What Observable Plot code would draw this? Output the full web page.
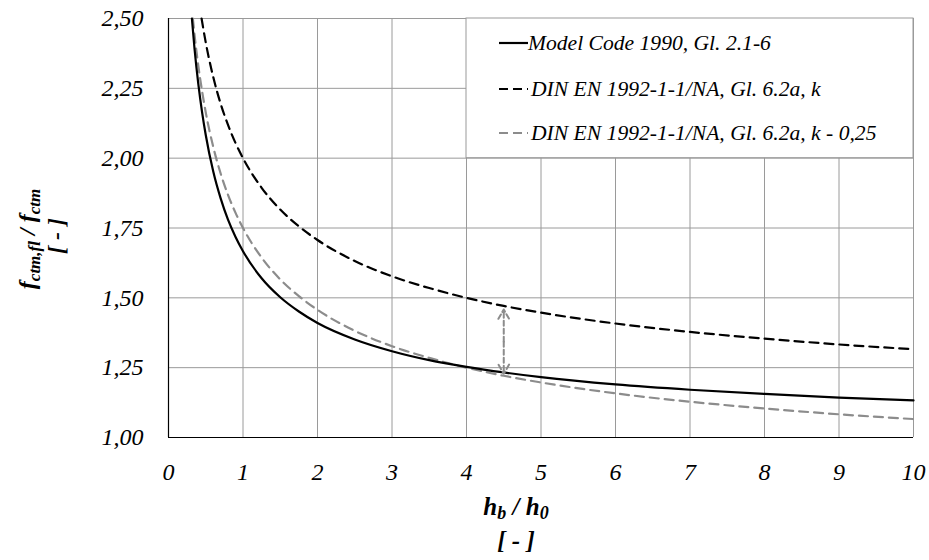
<!DOCTYPE html>
<html><head><meta charset="utf-8">
<script src="https://cdn.jsdelivr.net/npm/d3@7"></script>
<script src="https://cdn.jsdelivr.net/npm/@observablehq/plot@0.6"></script>
<style>body{margin:0;background:#fff}</style>
</head><body><div id="chart"></div>
<script>
// Model Code 1990, Gl. 2.1-6
const mcX = [0.314, 0.35, 0.4, 0.45, 0.5, 0.6, 0.7, 0.8, 0.9, 1, 1.25, 1.5, 1.75, 2, 2.5, 3, 3.5, 4, 4.5, 5, 6, 7, 8, 9, 10];
const mcY = [2.500, 2.390, 2.266, 2.166, 2.083, 1.953, 1.856, 1.779, 1.718, 1.667, 1.570, 1.502, 1.451, 1.410, 1.351, 1.309, 1.277, 1.253, 1.233, 1.216, 1.190, 1.171, 1.156, 1.143, 1.133];
// DIN EN 1992-1-1/NA, Gl. 6.2a, k
const kX = [0.444, 0.5, 0.6, 0.7, 0.8, 0.9, 1, 1.25, 1.5, 1.75, 2, 2.5, 3, 3.5, 4, 4.5, 5, 6, 7, 8, 9, 10];
const kY = [2.500, 2.414, 2.291, 2.195, 2.118, 2.054, 2.000, 1.894, 1.816, 1.756, 1.707, 1.632, 1.577, 1.535, 1.500, 1.471, 1.447, 1.408, 1.378, 1.354, 1.333, 1.316];
// DIN EN 1992-1-1/NA, Gl. 6.2a, k - 0,25
const k25X = [0.327, 0.35, 0.4, 0.45, 0.5, 0.6, 0.7, 0.8, 0.9, 1, 1.25, 1.5, 1.75, 2, 2.5, 3, 3.5, 4, 4.5, 5, 6, 7, 8, 9, 10];
const k25Y = [2.500, 2.440, 2.331, 2.241, 2.164, 2.041, 1.945, 1.868, 1.804, 1.750, 1.644, 1.566, 1.506, 1.457, 1.382, 1.327, 1.285, 1.250, 1.221, 1.197, 1.158, 1.128, 1.104, 1.083, 1.066];

const seriesNames = ["Model Code 1990, Gl. 2.1-6", "DIN EN 1992-1-1/NA, Gl. 6.2a, k", "DIN EN 1992-1-1/NA, Gl. 6.2a, k - 0,25"];

const xTicks = [0, 1, 2, 3, 4, 5, 6, 7, 8, 9, 10];
const xTickLabels = ["0", "1", "2", "3", "4", "5", "6", "7", "8", "9", "10"];
const yTicks = [1.00, 1.25, 1.50, 1.75, 2.00, 2.25, 2.50];
const yTickLabels = ["1,00", "1,25", "1,50", "1,75", "2,00", "2,25", "2,50"];

// legend area in data units and the difference arrow
const legendArea = [4, 10, 2.0, 2.5];
const arrowX = [4.5];
const arrowY = [1.228, 1.458];

const toRows = (xs, ys) => xs.map((x, i) => ({x, y: ys[i]}));
const mc = toRows(mcX, mcY), k = toRows(kX, kY), k25 = toRows(k25X, k25Y);

const GRID = "#9a9a9a", GREY = "#8c8c8c";
const FONT = "Liberation Serif, Times New Roman, serif";

const arrowMid = (arrowY[0] + arrowY[1]) / 2;
const arrowRows = [
  {x: arrowX[0], y1: arrowMid, y2: arrowY[1]},
  {x: arrowX[0], y1: arrowMid, y2: arrowY[0]}
];

const chart = Plot.plot({
  width: 929, height: 560,
  marginLeft: 168, marginRight: 16, marginTop: 18, marginBottom: 123,
  style: {fontFamily: FONT, fontSize: "24px", fontStyle: "italic", color: "#000", background: "#fff", overflow: "visible"},
  x: {domain: [0, 10], label: null},
  y: {domain: [1, 2.5], label: null},
  marks: [
    Plot.ruleX(xTicks, {stroke: GRID, strokeWidth: 1, strokeOpacity: 1}),
    Plot.ruleY(yTicks, {stroke: GRID, strokeWidth: 1, strokeOpacity: 1}),
    Plot.ruleX([xTicks[0]], {stroke: "#000", strokeWidth: 1.2}),
    Plot.ruleY([yTicks[0]], {stroke: "#000", strokeWidth: 1.2}),
    Plot.axisX({ticks: xTicks, tickSize: 0, tickPadding: 25, tickFormat: (d) => xTickLabels[xTicks.indexOf(d)], fontSize: 24, fontFamily: FONT}),
    Plot.axisY({ticks: yTicks, tickSize: 0, tickPadding: 25, tickFormat: (d) => yTickLabels[yTicks.indexOf(d)], fontSize: 24, fontFamily: FONT}),
    Plot.line(k25, {x: "x", y: "y", stroke: GREY, strokeWidth: 2.2, strokeDasharray: "9,6", curve: "monotone-x"}),
    Plot.line(k, {x: "x", y: "y", stroke: "#000", strokeWidth: 2.2, strokeDasharray: "9,6", curve: "monotone-x"}),
    Plot.line(mc, {x: "x", y: "y", stroke: "#000", strokeWidth: 2.2, curve: "monotone-x"}),
    Plot.arrow(arrowRows, {x: "x", y1: "y1", y2: "y2", stroke: GREY, strokeWidth: 2, strokeDasharray: "5,3", headLength: 8, bend: 0})
  ]
});

document.getElementById("chart").appendChild(chart);

// legend and axis titles
const svg = d3.select(chart);
const sx = chart.scale("x"), sy = chart.scale("y");
const bx0 = sx.apply(legendArea[0]), bx1 = sx.apply(legendArea[1]);
const by0 = sy.apply(legendArea[3]), by1 = sy.apply(legendArea[2]);

const leg = svg.append("g").attr("font-family", FONT).attr("font-style", "italic")
  .attr("font-size", 21.6).attr("text-anchor", "start");
leg.append("rect").attr("x", bx0).attr("y", by0).attr("width", bx1 - bx0).attr("height", by1 - by0)
  .attr("fill", "#fff").attr("stroke", GRID).attr("stroke-width", 1);
const legStyles = [
  {stroke: "#000", dash: null},
  {stroke: "#000", dash: "9,5"},
  {stroke: GREY, dash: "9,5"}
];
const legCenters = [43, 89, 133].map((v) => by0 + (v - 18));
seriesNames.forEach((name, i) => {
  const cy = legCenters[i];
  leg.append("line").attr("x1", bx0 + 33).attr("x2", bx0 + 62).attr("y1", cy).attr("y2", cy)
    .attr("stroke", legStyles[i].stroke).attr("stroke-width", 2.2)
    .attr("stroke-dasharray", legStyles[i].dash);
  leg.append("text").attr("x", bx0 + (i === 0 ? 62 : 65)).attr("y", cy).attr("dy", "0.33em")
    .attr("text-anchor", "start").attr("fill", "#000").text(name);
});

const titleG = svg.append("g").attr("font-family", FONT).attr("font-style", "italic")
  .attr("font-weight", "bold").attr("font-size", 25).attr("fill", "#000").attr("text-anchor", "middle");
const cx = 516;
const xt = titleG.append("text").attr("x", cx).attr("y", 515);
xt.append("tspan").text("h");
xt.append("tspan").attr("font-size", 18).attr("dy", 4).text("b");
xt.append("tspan").attr("dy", -4).text(" / h");
xt.append("tspan").attr("font-size", 18).attr("dy", 4).text("0");
titleG.append("text").attr("x", cx).attr("y", 549).text("[ - ]");

const cyMid = 239;
const yt = titleG.append("text").attr("font-size", 24).attr("transform", `translate(35,${cyMid}) rotate(-90)`);
yt.append("tspan").text("f");
yt.append("tspan").attr("font-size", 17).attr("dy", 5).text("ctm,fl");
yt.append("tspan").attr("dy", -5).text(" / f");
yt.append("tspan").attr("font-size", 17).attr("dy", 5).text("ctm");
titleG.append("text").attr("font-size", 24).attr("transform", `translate(64,${cyMid - 3}) rotate(-90)`).text("[ - ]");
</script>
</body></html>
